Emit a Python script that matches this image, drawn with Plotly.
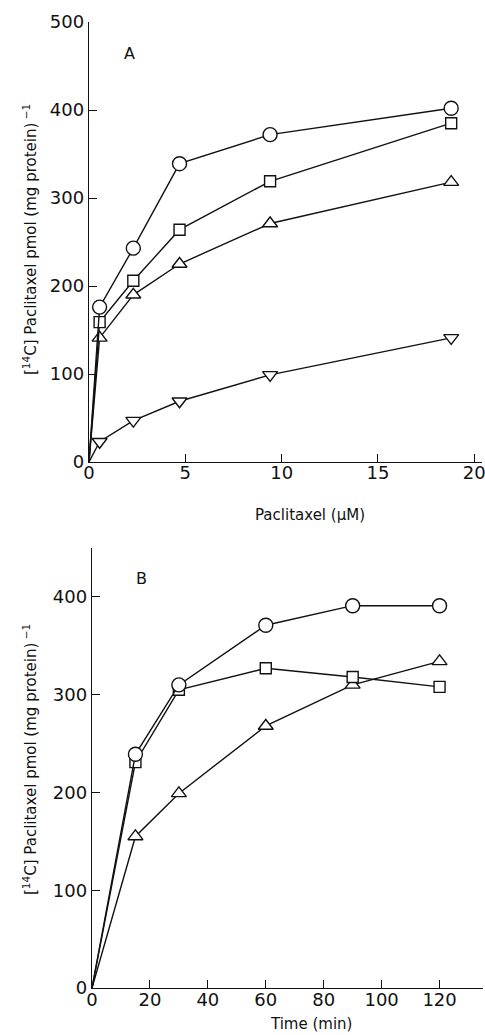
import plotly.graph_objects as go

W, H = 485, 1035

# Panel A: paclitaxel concentration (uM) vs uptake
conc_A = [0, 0.55, 2.3, 4.7, 9.4, 18.8]
circle_A = [0, 176, 243, 339, 372, 402]
square_A = [0, 159, 206, 264, 319, 385]
tri_A = [0, 141, 190, 225, 271, 318]
invtri_A = [0, 23, 47, 69, 99, 141]

# Panel B: time (min) vs uptake
time_B = [0, 15, 30, 60, 90, 120]
circle_B = [0, 239, 310, 371, 391, 391]
square_B = [0, 231, 305, 327, 318, 308]
tri_B = [0, 155, 199, 268, 310, 334]

ticks_A_x = [0, 5, 10, 15, 20]
ticks_A_y = [0, 100, 200, 300, 400, 500]
ticks_B_x = [0, 20, 40, 60, 80, 100, 120]
ticks_B_y = [0, 100, 200, 300, 400]

INK = "#111111"
FONT = "DejaVu Sans, Arial, sans-serif"

def px_x(p):
    return p / W

def px_y(p):
    return 1 - p / H

fig = go.Figure()

def add_series(x, y, symbol, size, xa, ya):
    fig.add_trace(go.Scatter(x=x, y=y, mode="lines", xaxis=xa, yaxis=ya,
                             line=dict(color=INK, width=1.4), showlegend=False,
                             hoverinfo="skip"))
    fig.add_trace(go.Scatter(x=x[1:], y=y[1:], mode="markers", xaxis=xa, yaxis=ya,
                             marker=dict(symbol=symbol, size=size, color="white",
                                         line=dict(color=INK, width=1.4)),
                             showlegend=False))

add_series(conc_A, invtri_A, "triangle-down", 13, "x", "y")
add_series(conc_A, tri_A, "triangle-up", 13, "x", "y")
add_series(conc_A, square_A, "square", 11, "x", "y")
add_series(conc_A, circle_A, "circle", 14, "x", "y")

add_series(time_B, tri_B, "triangle-up", 13, "x2", "y2")
add_series(time_B, square_B, "square", 11, "x2", "y2")
add_series(time_B, circle_B, "circle", 14, "x2", "y2")

axis_common = dict(showline=True, linecolor=INK, linewidth=1.4, showgrid=False,
                   zeroline=False, ticks="inside", ticklen=8, tickwidth=1.3,
                   tickcolor=INK, tickfont=dict(family=FONT, size=18, color=INK),
                   automargin=False, ticklabeloverflow="allow")

fig.update_layout(
    width=W, height=H,
    margin=dict(l=0, r=0, t=0, b=0),
    paper_bgcolor="white", plot_bgcolor="white",
    font=dict(family=FONT, color=INK),
    xaxis=dict(domain=[px_x(89), px_x(482)], range=[0, 20.4], tickvals=ticks_A_x,
               anchor="y", ticklabelstandoff=-6, **axis_common),
    yaxis=dict(domain=[px_y(462), px_y(22)], range=[0, 500], tickvals=ticks_A_y,
               anchor="x", **axis_common),
    xaxis2=dict(domain=[px_x(92), px_x(483)], range=[0, 135], tickvals=ticks_B_x,
                anchor="y2", ticklabelstandoff=-5, **axis_common),
    yaxis2=dict(domain=[px_y(988), px_y(548)], range=[0, 450], tickvals=ticks_B_y,
                anchor="x2", **axis_common),
)

ytitle = "[<sup>14</sup>C] Paclitaxel pmol (mg protein)<sup> −1</sup>"
annotations = [
    dict(text="A", x=px_x(129), y=px_y(53), font=dict(size=16)),
    dict(text="B", x=px_x(141), y=px_y(578), font=dict(size=16)),
    dict(text="Paclitaxel (µM)", x=px_x(310), y=px_y(515), font=dict(size=15)),
    dict(text="Time (min)", x=px_x(311), y=px_y(1024), font=dict(size=15)),
    dict(text=ytitle, x=px_x(30), y=px_y(240), textangle=-90, font=dict(size=15)),
    dict(text=ytitle, x=px_x(30), y=px_y(760), textangle=-90, font=dict(size=15)),
]
for a in annotations:
    a.update(xref="paper", yref="paper", showarrow=False, xanchor="center",
             yanchor="middle", borderpad=0)
    a["font"].update(family=FONT, color=INK)
fig.update_layout(annotations=annotations)

fig.write_html(
    "out.html",
    config={"displayModeBar": False},
    post_script="document.body.style.margin='0';document.body.style.overflow='hidden';",
)
